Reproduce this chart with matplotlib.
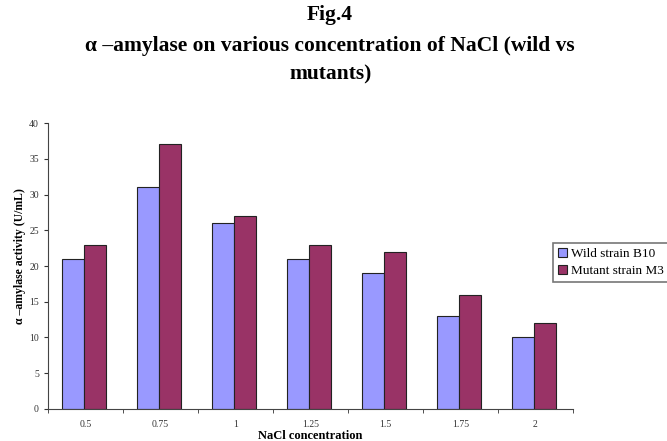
import numpy as np
import matplotlib
matplotlib.use("Agg")
import matplotlib.pyplot as plt
from matplotlib.ticker import FixedLocator

plt.rcParams['font.family'] = ['Liberation Serif', 'DejaVu Serif']

# NaCl concentration categories and activity for each strain (U/mL)
nacl = ["0.5", "0.75", "1", "1.25", "1.5", "1.75", "2"]
wild_b10 = [21, 31, 26, 21, 19, 13, 10]
mutant_m3 = [23, 37, 27, 23, 22, 16, 12]

fig = plt.figure(figsize=(6.67, 4.41), dpi=100)
ax = fig.add_axes([0.072, 0.0726, 0.787, 0.6484])

x = np.arange(len(nacl))
w = 0.295
ax.bar(x - w / 2 - 0.02, wild_b10, w, color="#9999FF", edgecolor="#222222",
       linewidth=0.8, label="Wild strain B10")
ax.bar(x + w / 2 - 0.02, mutant_m3, w, color="#993366", edgecolor="#222222",
       linewidth=0.8, label="Mutant strain M3")

ax.set_xlim(-0.5, len(nacl) - 0.5)
ax.set_ylim(0, 40)
ax.set_yticks(range(0, 41, 5))
ax.set_xticks(x)
ax.set_xticklabels(nacl)
ax.xaxis.set_minor_locator(FixedLocator(np.arange(-0.5, len(nacl), 1.0)))
ax.tick_params(axis="x", which="major", length=0, labelsize=7, pad=8,
               colors="#333333")
ax.tick_params(axis="x", which="minor", length=3, direction="out",
               color="#333333")
ax.tick_params(axis="y", length=3, direction="out", labelsize=7,
               color="#333333", labelcolor="#333333")

for side in ("top", "right"):
    ax.spines[side].set_visible(False)
ax.spines["left"].set_color("#444444")
ax.spines["bottom"].set_color("#444444")

ax.set_ylabel("α –amylase activity (U/mL)", fontsize=8.5, fontweight="bold")
ax.yaxis.set_label_coords(-0.042, 0.535)
ax.set_xlabel("NaCl concentration", fontsize=9, fontweight="bold",
              labelpad=1)

title_kw = dict(ha="center", va="center", fontsize=15.5, fontweight="bold")
fig.text(0.495, 0.966, "Fig.4", **title_kw)
fig.text(0.495, 0.895, "α –amylase on various concentration of NaCl (wild vs",
         **title_kw)
fig.text(0.495, 0.832, "mutants)", **title_kw)

leg = fig.legend(loc="upper left", bbox_to_anchor=(0.829, 0.449),
                 fontsize=9.5, frameon=True, fancybox=False, handlelength=0.75,
                 handleheight=0.75, handletextpad=0.25, borderpad=0.35,
                 labelspacing=0.35, borderaxespad=0)
leg.get_frame().set_edgecolor("#555555")
leg.get_frame().set_linewidth(1.2)

fig.savefig("out.png", dpi=100)
